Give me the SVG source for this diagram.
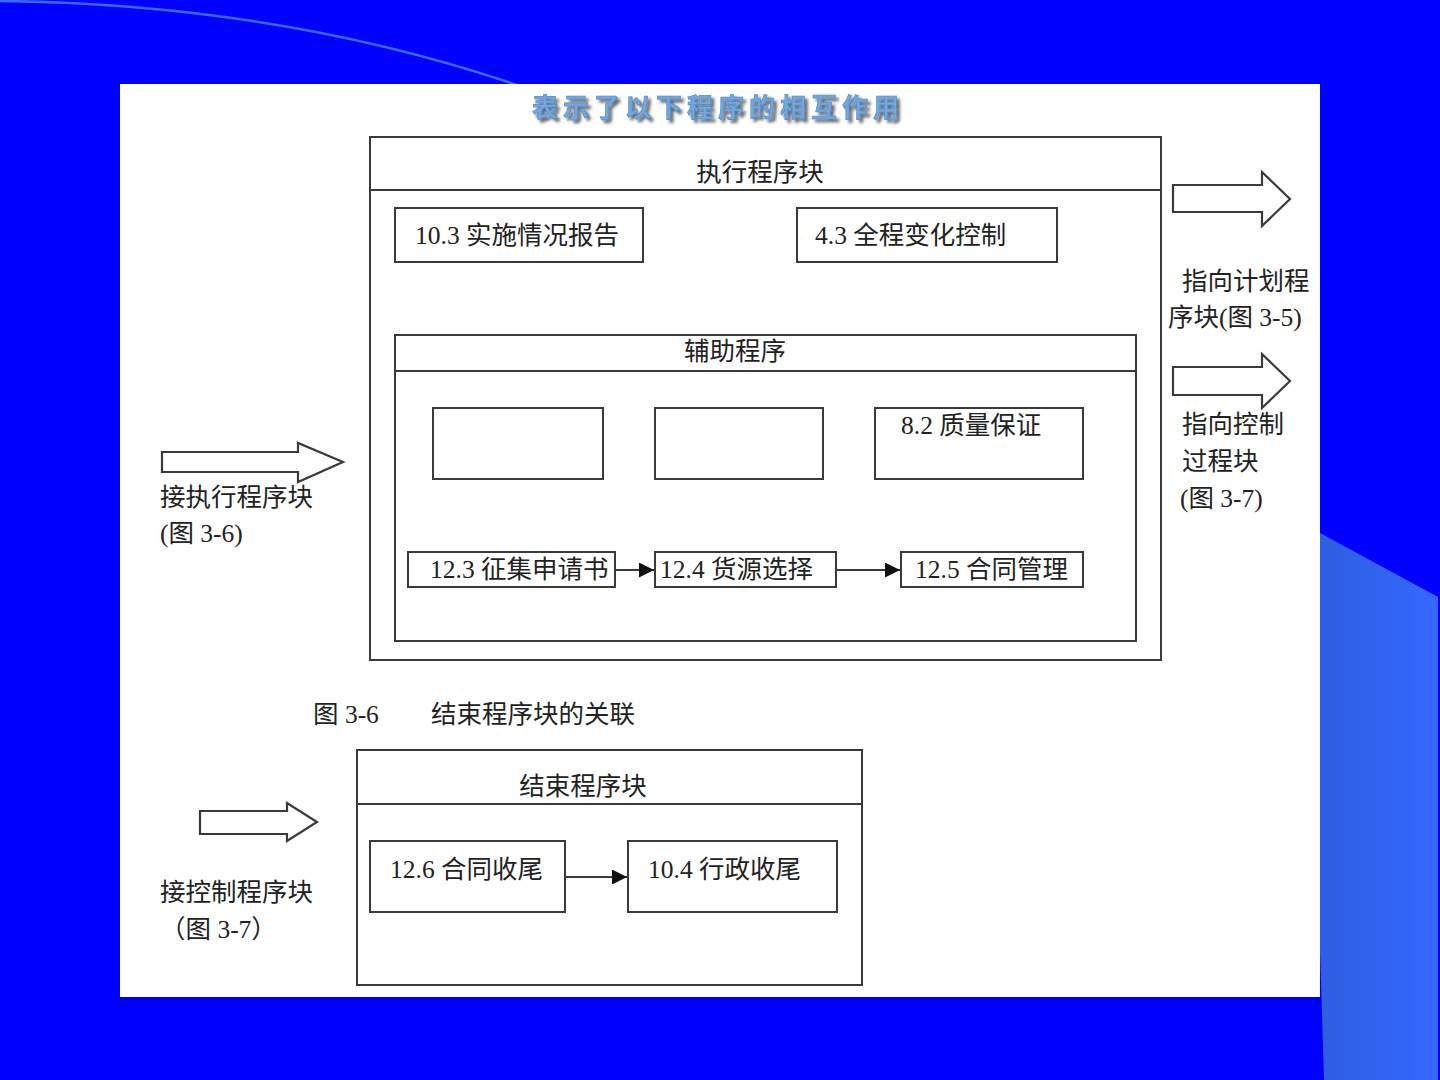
<svg xmlns="http://www.w3.org/2000/svg" width="1440" height="1080" viewBox="0 0 1440 1080">
<style>
.box{fill:#fff;stroke:#3a3a3a;stroke-width:2}
.ln{stroke:#3a3a3a;stroke-width:2;fill:none}
.t{font-family:"Liberation Serif","Noto Sans CJK SC",serif;font-size:25.5px;fill:#222}
.c{text-anchor:middle}
.blk{fill:#fff;stroke:#3a3a3a;stroke-width:2.2;stroke-linejoin:miter}
</style>
<defs>
<linearGradient id="g" x1="0" x2="1" y1="0" y2="0"><stop offset="0" stop-color="#2E5EE0"/><stop offset="1" stop-color="#3468FF"/></linearGradient>
<marker id="ah" viewBox="0 0 10 10" refX="10" refY="5" markerWidth="16" markerHeight="15" markerUnits="userSpaceOnUse" orient="auto"><path d="M0,0 L10,5 L0,10 z" fill="#111"/></marker>
<filter id="sh" x="-10%" y="-50%" width="120%" height="200%"><feGaussianBlur in="SourceAlpha" stdDeviation="1.8" result="b"/><feOffset dx="3" dy="3" result="o"/><feFlood flood-color="#666"/><feComposite in2="o" operator="in"/><feMerge><feMergeNode/><feMergeNode in="SourceGraphic"/></feMerge></filter>
</defs>
<rect width="1440" height="1080" fill="#0000FF"/>
<path d="M0,1 Q280,4 520,86" fill="none" stroke="#3A6BFF" stroke-width="2.5"/>
<polygon points="1320,533 1438,597 1438,1080 1324,1080 1320,948" fill="url(#g)"/>
<rect x="120" y="84" width="1200" height="913" fill="#fff"/>
<g id="title">
<text x="718" y="117" class="c" font-family="Noto Sans CJK SC,sans-serif" font-size="26" font-weight="bold" letter-spacing="5" fill="#6FA8E0" stroke="#4F88C8" stroke-width="0.6" filter="url(#sh)">表示了以下程序的相互作用</text>
</g>
<g id="exec-block">
<rect class="box" x="370" y="137" width="791" height="523"/>
<line class="ln" x1="370" y1="190" x2="1161" y2="190"/>
<text class="t c" x="760" y="181">执行程序块</text>
</g>
<g id="n103"><rect class="box" x="395" y="208" width="248" height="54"/><text class="t" x="415" y="244">10.3 实施情况报告</text></g>
<g id="n43"><rect class="box" x="797" y="208" width="260" height="54"/><text class="t" x="815" y="244">4.3 全程变化控制</text></g>
<g id="aux">
<rect class="box" x="395" y="335" width="741" height="306"/>
<line class="ln" x1="395" y1="371" x2="1136" y2="371"/>
<text class="t c" x="735" y="360">辅助程序</text>
</g>
<g id="empty1"><rect class="box" x="433" y="408" width="170" height="71"/></g>
<g id="empty2"><rect class="box" x="655" y="408" width="168" height="71"/></g>
<g id="n82"><rect class="box" x="875" y="408" width="208" height="71"/><text class="t" x="901" y="434">8.2 质量保证</text></g>
<g id="n123"><rect class="box" x="408" y="552" width="207" height="35"/><text class="t" x="430" y="578">12.3 征集申请书</text></g>
<g id="n124"><rect class="box" x="655" y="552" width="181" height="35"/><text class="t" x="660" y="578">12.4 货源选择</text></g>
<g id="n125"><rect class="box" x="901" y="552" width="182" height="35"/><text class="t" x="915" y="578">12.5 合同管理</text></g>
<g id="end-block">
<rect class="box" x="357" y="750" width="505" height="235"/>
<line class="ln" x1="357" y1="804" x2="862" y2="804"/>
<text class="t c" x="583" y="795">结束程序块</text>
</g>
<g id="n126"><rect class="box" x="370" y="841" width="195" height="71"/><text class="t" x="390" y="878">12.6 合同收尾</text></g>
<g id="n104"><rect class="box" x="628" y="841" width="209" height="71"/><text class="t" x="648" y="878">10.4 行政收尾</text></g>
<g id="connectors">
<line class="ln" x1="615" y1="570" x2="654" y2="570" marker-end="url(#ah)"/>
<line class="ln" x1="836" y1="570" x2="900" y2="570" marker-end="url(#ah)"/>
<line class="ln" x1="565" y1="877" x2="627" y2="877" marker-end="url(#ah)"/>
</g>
<g id="in-exec">
<polygon class="blk" points="162,452 298,452 298,443 343,462 298,482 298,472 162,472"/>
<text class="t" x="160" y="506">接执行程序块</text>
<text class="t" x="160" y="542">(图 3-6)</text>
</g>
<g id="out-plan">
<polygon class="blk" points="1173,185 1262,185 1262,172 1290,199 1262,226 1262,212 1173,212"/>
<text class="t" x="1182" y="290">指向计划程</text>
<text class="t" x="1168" y="326">序块(图 3-5)</text>
</g>
<g id="out-ctrl">
<polygon class="blk" points="1173,367 1262,367 1262,354 1290,381 1262,408 1262,395 1173,395"/>
<text class="t" x="1182" y="433">指向控制</text>
<text class="t" x="1182" y="470">过程块</text>
<text class="t" x="1180" y="507">(图 3-7)</text>
</g>
<g id="caption">
<text class="t" x="313" y="723">图 3-6</text>
<text class="t" x="431" y="723">结束程序块的关联</text>
</g>
<g id="in-ctrl">
<polygon class="blk" points="200,811 287,811 287,803 317,822 287,841 287,834 200,834"/>
<text class="t" x="160" y="901">接控制程序块</text>
<text class="t" x="160" y="938">（图 3-7）</text>
</g>
</svg>
